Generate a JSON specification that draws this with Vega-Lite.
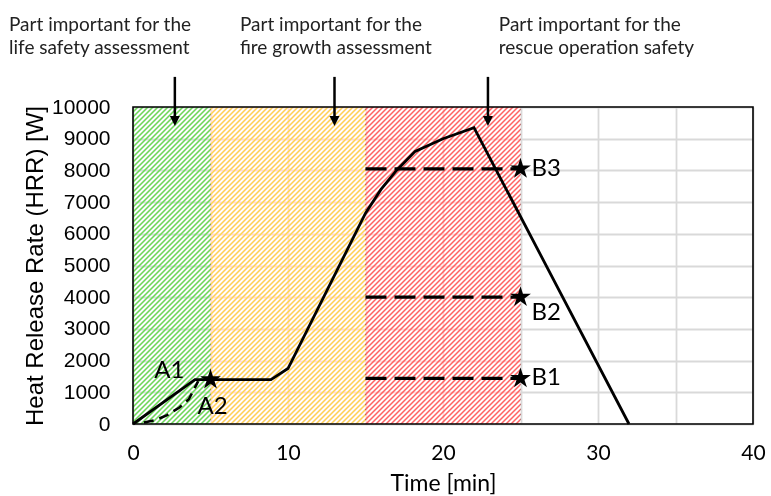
{
  "$schema": "https://vega.github.io/schema/vega-lite/v6.json",
  "width": 620,
  "height": 317,
  "autosize": {"type": "none"},
  "padding": {"left": 133, "top": 107, "right": 18, "bottom": 72},
  "background": "white",
  "config": {
    "view": {"stroke": null},
    "axis": {
      "domain": false,
      "ticks": false,
      "tickSize": 0,
      "grid": true,
      "gridColor": "#d9d9d9",
      "gridWidth": 1.8,
      "gridOpacity": 1,
      "labelColor": "black",
      "titleColor": "black",
      "titleFontWeight": "normal",
      "labelFlush": false
    }
  },
  "datasets": {
    "zones": [
      {"zone": "life", "start": 0, "end": 5, "arrowAt": 2.7, "noteAt": -8, "note": "Part important for the\nlife safety assessment"},
      {"zone": "growth", "start": 5, "end": 15, "arrowAt": 13, "noteAt": 6.9, "note": "Part important for the\nfire growth assessment"},
      {"zone": "rescue", "start": 15, "end": 25, "arrowAt": 22.9, "noteAt": 23.6, "note": "Part important for the\nrescue operation safety"}
    ],
    "hrr": [
      {"t": 0, "q": 0}, {"t": 4, "q": 1400}, {"t": 8.9, "q": 1400}, {"t": 10, "q": 1750},
      {"t": 15, "q": 6650}, {"t": 16, "q": 7400}, {"t": 17, "q": 8000}, {"t": 18.2, "q": 8600},
      {"t": 20, "q": 9000}, {"t": 22, "q": 9350}, {"t": 32, "q": 0}
    ],
    "a2": [
      {"t": 0.7, "q": 50}, {"t": 1.5, "q": 130}, {"t": 2.2, "q": 280}, {"t": 3.0, "q": 520},
      {"t": 3.6, "q": 780}, {"t": 4.1, "q": 1250}, {"t": 4.2, "q": 1350}
    ],
    "pts": [
      {"id": "A1", "t": 5, "q": 1400},
      {"id": "A2", "t": 5, "q": 1400},
      {"id": "B1", "t": 25, "q": 1440, "from": 15},
      {"id": "B2", "t": 25, "q": 4000, "from": 15},
      {"id": "B3", "t": 25, "q": 8050, "from": 15}
    ]
  },
  "layer": [
    {
      "description": "plot frame, also carrying both axes",
      "data": {"values": [{}]},
      "mark": {"type": "rect", "filled": false, "color": "black", "strokeWidth": 1.6, "opacity": 0},
      "encoding": {
        "x": {
          "datum": 0, "type": "quantitative",
          "scale": {"domain": [0, 40], "nice": false, "zero": false},
          "axis": {
            "title": "Time [min]",
            "values": [0, 5, 10, 15, 20, 25, 30, 35, 40],
            "labelExpr": "datum.value % 10 === 0 ? datum.label : ''",
            "labelOverlap": false,
            "labelFont": "Lato", "labelFontSize": 21, "labelPadding": 18,
            "titleFont": "Lato", "titleFontSize": 23, "titlePadding": 9
          }
        },
        "x2": {"datum": 40},
        "y": {
          "datum": 0, "type": "quantitative",
          "scale": {"domain": [0, 10000], "nice": false},
          "axis": {
            "title": "Heat Release Rate (HRR) [W]",
            "tickCount": 10,
            "labelExpr": "'' + datum.value",
            "labelOverlap": false,
            "labelSeparation": 0,
            "labelBound": false,
            "labelFont": "Liberation Sans",
            "labelFontSize": 21, "labelPadding": 23,
            "titleFont": "Liberation Sans", "titleFontSize": 24, "titlePadding": 4
          }
        },
        "y2": {"datum": 10000}
      }
    },
    {
      "description": "hatch mask: thin dark diagonal stripes over the assessed span",
      "data": {"name": "zones"},
      "transform": [{"aggregate": [{"op": "min", "field": "start", "as": "s"}, {"op": "max", "field": "end", "as": "e"}]}],
      "mark": {
        "type": "rect",
        "fill": {
          "gradient": "linear", "x1": 0, "y1": 0, "x2": 1.54601, "y2": 1.26473,
          "stops": [
{"offset":0.00,"color":"#000"},{"offset":0.0015,"color":"transparent"},{"offset":0.0035,"color":"transparent"},{"offset":0.005,"color":"#000"},{"offset":0.0065,"color":"transparent"},{"offset":0.0085,"color":"transparent"},
{"offset":0.01,"color":"#000"},{"offset":0.0115,"color":"transparent"},{"offset":0.0135,"color":"transparent"},{"offset":0.015,"color":"#000"},{"offset":0.0165,"color":"transparent"},{"offset":0.0185,"color":"transparent"},
{"offset":0.02,"color":"#000"},{"offset":0.0215,"color":"transparent"},{"offset":0.0235,"color":"transparent"},{"offset":0.025,"color":"#000"},{"offset":0.0265,"color":"transparent"},{"offset":0.0285,"color":"transparent"},
{"offset":0.03,"color":"#000"},{"offset":0.0315,"color":"transparent"},{"offset":0.0335,"color":"transparent"},{"offset":0.035,"color":"#000"},{"offset":0.0365,"color":"transparent"},{"offset":0.0385,"color":"transparent"},
{"offset":0.04,"color":"#000"},{"offset":0.0415,"color":"transparent"},{"offset":0.0435,"color":"transparent"},{"offset":0.045,"color":"#000"},{"offset":0.0465,"color":"transparent"},{"offset":0.0485,"color":"transparent"},
{"offset":0.05,"color":"#000"},{"offset":0.0515,"color":"transparent"},{"offset":0.0535,"color":"transparent"},{"offset":0.055,"color":"#000"},{"offset":0.0565,"color":"transparent"},{"offset":0.0585,"color":"transparent"},
{"offset":0.06,"color":"#000"},{"offset":0.0615,"color":"transparent"},{"offset":0.0635,"color":"transparent"},{"offset":0.065,"color":"#000"},{"offset":0.0665,"color":"transparent"},{"offset":0.0685,"color":"transparent"},
{"offset":0.07,"color":"#000"},{"offset":0.0715,"color":"transparent"},{"offset":0.0735,"color":"transparent"},{"offset":0.075,"color":"#000"},{"offset":0.0765,"color":"transparent"},{"offset":0.0785,"color":"transparent"},
{"offset":0.08,"color":"#000"},{"offset":0.0815,"color":"transparent"},{"offset":0.0835,"color":"transparent"},{"offset":0.085,"color":"#000"},{"offset":0.0865,"color":"transparent"},{"offset":0.0885,"color":"transparent"},
{"offset":0.09,"color":"#000"},{"offset":0.0915,"color":"transparent"},{"offset":0.0935,"color":"transparent"},{"offset":0.095,"color":"#000"},{"offset":0.0965,"color":"transparent"},{"offset":0.0985,"color":"transparent"},
{"offset":0.10,"color":"#000"},{"offset":0.1015,"color":"transparent"},{"offset":0.1035,"color":"transparent"},{"offset":0.105,"color":"#000"},{"offset":0.1065,"color":"transparent"},{"offset":0.1085,"color":"transparent"},
{"offset":0.11,"color":"#000"},{"offset":0.1115,"color":"transparent"},{"offset":0.1135,"color":"transparent"},{"offset":0.115,"color":"#000"},{"offset":0.1165,"color":"transparent"},{"offset":0.1185,"color":"transparent"},
{"offset":0.12,"color":"#000"},{"offset":0.1215,"color":"transparent"},{"offset":0.1235,"color":"transparent"},{"offset":0.125,"color":"#000"},{"offset":0.1265,"color":"transparent"},{"offset":0.1285,"color":"transparent"},
{"offset":0.13,"color":"#000"},{"offset":0.1315,"color":"transparent"},{"offset":0.1335,"color":"transparent"},{"offset":0.135,"color":"#000"},{"offset":0.1365,"color":"transparent"},{"offset":0.1385,"color":"transparent"},
{"offset":0.14,"color":"#000"},{"offset":0.1415,"color":"transparent"},{"offset":0.1435,"color":"transparent"},{"offset":0.145,"color":"#000"},{"offset":0.1465,"color":"transparent"},{"offset":0.1485,"color":"transparent"},
{"offset":0.15,"color":"#000"},{"offset":0.1515,"color":"transparent"},{"offset":0.1535,"color":"transparent"},{"offset":0.155,"color":"#000"},{"offset":0.1565,"color":"transparent"},{"offset":0.1585,"color":"transparent"},
{"offset":0.16,"color":"#000"},{"offset":0.1615,"color":"transparent"},{"offset":0.1635,"color":"transparent"},{"offset":0.165,"color":"#000"},{"offset":0.1665,"color":"transparent"},{"offset":0.1685,"color":"transparent"},
{"offset":0.17,"color":"#000"},{"offset":0.1715,"color":"transparent"},{"offset":0.1735,"color":"transparent"},{"offset":0.175,"color":"#000"},{"offset":0.1765,"color":"transparent"},{"offset":0.1785,"color":"transparent"},
{"offset":0.18,"color":"#000"},{"offset":0.1815,"color":"transparent"},{"offset":0.1835,"color":"transparent"},{"offset":0.185,"color":"#000"},{"offset":0.1865,"color":"transparent"},{"offset":0.1885,"color":"transparent"},
{"offset":0.19,"color":"#000"},{"offset":0.1915,"color":"transparent"},{"offset":0.1935,"color":"transparent"},{"offset":0.195,"color":"#000"},{"offset":0.1965,"color":"transparent"},{"offset":0.1985,"color":"transparent"},
{"offset":0.20,"color":"#000"},{"offset":0.2015,"color":"transparent"},{"offset":0.2035,"color":"transparent"},{"offset":0.205,"color":"#000"},{"offset":0.2065,"color":"transparent"},{"offset":0.2085,"color":"transparent"},
{"offset":0.21,"color":"#000"},{"offset":0.2115,"color":"transparent"},{"offset":0.2135,"color":"transparent"},{"offset":0.215,"color":"#000"},{"offset":0.2165,"color":"transparent"},{"offset":0.2185,"color":"transparent"},
{"offset":0.22,"color":"#000"},{"offset":0.2215,"color":"transparent"},{"offset":0.2235,"color":"transparent"},{"offset":0.225,"color":"#000"},{"offset":0.2265,"color":"transparent"},{"offset":0.2285,"color":"transparent"},
{"offset":0.23,"color":"#000"},{"offset":0.2315,"color":"transparent"},{"offset":0.2335,"color":"transparent"},{"offset":0.235,"color":"#000"},{"offset":0.2365,"color":"transparent"},{"offset":0.2385,"color":"transparent"},
{"offset":0.24,"color":"#000"},{"offset":0.2415,"color":"transparent"},{"offset":0.2435,"color":"transparent"},{"offset":0.245,"color":"#000"},{"offset":0.2465,"color":"transparent"},{"offset":0.2485,"color":"transparent"},
{"offset":0.25,"color":"#000"},{"offset":0.2515,"color":"transparent"},{"offset":0.2535,"color":"transparent"},{"offset":0.255,"color":"#000"},{"offset":0.2565,"color":"transparent"},{"offset":0.2585,"color":"transparent"},
{"offset":0.26,"color":"#000"},{"offset":0.2615,"color":"transparent"},{"offset":0.2635,"color":"transparent"},{"offset":0.265,"color":"#000"},{"offset":0.2665,"color":"transparent"},{"offset":0.2685,"color":"transparent"},
{"offset":0.27,"color":"#000"},{"offset":0.2715,"color":"transparent"},{"offset":0.2735,"color":"transparent"},{"offset":0.275,"color":"#000"},{"offset":0.2765,"color":"transparent"},{"offset":0.2785,"color":"transparent"},
{"offset":0.28,"color":"#000"},{"offset":0.2815,"color":"transparent"},{"offset":0.2835,"color":"transparent"},{"offset":0.285,"color":"#000"},{"offset":0.2865,"color":"transparent"},{"offset":0.2885,"color":"transparent"},
{"offset":0.29,"color":"#000"},{"offset":0.2915,"color":"transparent"},{"offset":0.2935,"color":"transparent"},{"offset":0.295,"color":"#000"},{"offset":0.2965,"color":"transparent"},{"offset":0.2985,"color":"transparent"},
{"offset":0.30,"color":"#000"},{"offset":0.3015,"color":"transparent"},{"offset":0.3035,"color":"transparent"},{"offset":0.305,"color":"#000"},{"offset":0.3065,"color":"transparent"},{"offset":0.3085,"color":"transparent"},
{"offset":0.31,"color":"#000"},{"offset":0.3115,"color":"transparent"},{"offset":0.3135,"color":"transparent"},{"offset":0.315,"color":"#000"},{"offset":0.3165,"color":"transparent"},{"offset":0.3185,"color":"transparent"},
{"offset":0.32,"color":"#000"},{"offset":0.3215,"color":"transparent"},{"offset":0.3235,"color":"transparent"},{"offset":0.325,"color":"#000"},{"offset":0.3265,"color":"transparent"},{"offset":0.3285,"color":"transparent"},
{"offset":0.33,"color":"#000"},{"offset":0.3315,"color":"transparent"},{"offset":0.3335,"color":"transparent"},{"offset":0.335,"color":"#000"},{"offset":0.3365,"color":"transparent"},{"offset":0.3385,"color":"transparent"},
{"offset":0.34,"color":"#000"},{"offset":0.3415,"color":"transparent"},{"offset":0.3435,"color":"transparent"},{"offset":0.345,"color":"#000"},{"offset":0.3465,"color":"transparent"},{"offset":0.3485,"color":"transparent"},
{"offset":0.35,"color":"#000"},{"offset":0.3515,"color":"transparent"},{"offset":0.3535,"color":"transparent"},{"offset":0.355,"color":"#000"},{"offset":0.3565,"color":"transparent"},{"offset":0.3585,"color":"transparent"},
{"offset":0.36,"color":"#000"},{"offset":0.3615,"color":"transparent"},{"offset":0.3635,"color":"transparent"},{"offset":0.365,"color":"#000"},{"offset":0.3665,"color":"transparent"},{"offset":0.3685,"color":"transparent"},
{"offset":0.37,"color":"#000"},{"offset":0.3715,"color":"transparent"},{"offset":0.3735,"color":"transparent"},{"offset":0.375,"color":"#000"},{"offset":0.3765,"color":"transparent"},{"offset":0.3785,"color":"transparent"},
{"offset":0.38,"color":"#000"},{"offset":0.3815,"color":"transparent"},{"offset":0.3835,"color":"transparent"},{"offset":0.385,"color":"#000"},{"offset":0.3865,"color":"transparent"},{"offset":0.3885,"color":"transparent"},
{"offset":0.39,"color":"#000"},{"offset":0.3915,"color":"transparent"},{"offset":0.3935,"color":"transparent"},{"offset":0.395,"color":"#000"},{"offset":0.3965,"color":"transparent"},{"offset":0.3985,"color":"transparent"},
{"offset":0.40,"color":"#000"},{"offset":0.4015,"color":"transparent"},{"offset":0.4035,"color":"transparent"},{"offset":0.405,"color":"#000"},{"offset":0.4065,"color":"transparent"},{"offset":0.4085,"color":"transparent"},
{"offset":0.41,"color":"#000"},{"offset":0.4115,"color":"transparent"},{"offset":0.4135,"color":"transparent"},{"offset":0.415,"color":"#000"},{"offset":0.4165,"color":"transparent"},{"offset":0.4185,"color":"transparent"},
{"offset":0.42,"color":"#000"},{"offset":0.4215,"color":"transparent"},{"offset":0.4235,"color":"transparent"},{"offset":0.425,"color":"#000"},{"offset":0.4265,"color":"transparent"},{"offset":0.4285,"color":"transparent"},
{"offset":0.43,"color":"#000"},{"offset":0.4315,"color":"transparent"},{"offset":0.4335,"color":"transparent"},{"offset":0.435,"color":"#000"},{"offset":0.4365,"color":"transparent"},{"offset":0.4385,"color":"transparent"},
{"offset":0.44,"color":"#000"},{"offset":0.4415,"color":"transparent"},{"offset":0.4435,"color":"transparent"},{"offset":0.445,"color":"#000"},{"offset":0.4465,"color":"transparent"},{"offset":0.4485,"color":"transparent"},
{"offset":0.45,"color":"#000"},{"offset":0.4515,"color":"transparent"},{"offset":0.4535,"color":"transparent"},{"offset":0.455,"color":"#000"},{"offset":0.4565,"color":"transparent"},{"offset":0.4585,"color":"transparent"},
{"offset":0.46,"color":"#000"},{"offset":0.4615,"color":"transparent"},{"offset":0.4635,"color":"transparent"},{"offset":0.465,"color":"#000"},{"offset":0.4665,"color":"transparent"},{"offset":0.4685,"color":"transparent"},
{"offset":0.47,"color":"#000"},{"offset":0.4715,"color":"transparent"},{"offset":0.4735,"color":"transparent"},{"offset":0.475,"color":"#000"},{"offset":0.4765,"color":"transparent"},{"offset":0.4785,"color":"transparent"},
{"offset":0.48,"color":"#000"},{"offset":0.4815,"color":"transparent"},{"offset":0.4835,"color":"transparent"},{"offset":0.485,"color":"#000"},{"offset":0.4865,"color":"transparent"},{"offset":0.4885,"color":"transparent"},
{"offset":0.49,"color":"#000"},{"offset":0.4915,"color":"transparent"},{"offset":0.4935,"color":"transparent"},{"offset":0.495,"color":"#000"},{"offset":0.4965,"color":"transparent"},{"offset":0.4985,"color":"transparent"},
{"offset":0.50,"color":"#000"},{"offset":0.5015,"color":"transparent"},{"offset":0.5035,"color":"transparent"},{"offset":0.505,"color":"#000"},{"offset":0.5065,"color":"transparent"},{"offset":0.5085,"color":"transparent"},
{"offset":0.51,"color":"#000"},{"offset":0.5115,"color":"transparent"},{"offset":0.5135,"color":"transparent"},{"offset":0.515,"color":"#000"},{"offset":0.5165,"color":"transparent"},{"offset":0.5185,"color":"transparent"},
{"offset":0.52,"color":"#000"},{"offset":0.5215,"color":"transparent"},{"offset":0.5235,"color":"transparent"},{"offset":0.525,"color":"#000"},{"offset":0.5265,"color":"transparent"},{"offset":0.5285,"color":"transparent"},
{"offset":0.53,"color":"#000"},{"offset":0.5315,"color":"transparent"},{"offset":0.5335,"color":"transparent"},{"offset":0.535,"color":"#000"},{"offset":0.5365,"color":"transparent"},{"offset":0.5385,"color":"transparent"},
{"offset":0.54,"color":"#000"},{"offset":0.5415,"color":"transparent"},{"offset":0.5435,"color":"transparent"},{"offset":0.545,"color":"#000"},{"offset":0.5465,"color":"transparent"},{"offset":0.5485,"color":"transparent"},
{"offset":0.55,"color":"#000"},{"offset":0.5515,"color":"transparent"},{"offset":0.5535,"color":"transparent"},{"offset":0.555,"color":"#000"},{"offset":0.5565,"color":"transparent"},{"offset":0.5585,"color":"transparent"},
{"offset":0.56,"color":"#000"},{"offset":0.5615,"color":"transparent"},{"offset":0.5635,"color":"transparent"},{"offset":0.565,"color":"#000"},{"offset":0.5665,"color":"transparent"},{"offset":0.5685,"color":"transparent"},
{"offset":0.57,"color":"#000"},{"offset":0.5715,"color":"transparent"},{"offset":0.5735,"color":"transparent"},{"offset":0.575,"color":"#000"},{"offset":0.5765,"color":"transparent"},{"offset":0.5785,"color":"transparent"},
{"offset":0.58,"color":"#000"},{"offset":0.5815,"color":"transparent"},{"offset":0.5835,"color":"transparent"},{"offset":0.585,"color":"#000"},{"offset":0.5865,"color":"transparent"},{"offset":0.5885,"color":"transparent"},
{"offset":0.59,"color":"#000"},{"offset":0.5915,"color":"transparent"},{"offset":0.5935,"color":"transparent"},{"offset":0.595,"color":"#000"},{"offset":0.5965,"color":"transparent"},{"offset":0.5985,"color":"transparent"},
{"offset":0.60,"color":"#000"},{"offset":0.6015,"color":"transparent"},{"offset":0.6035,"color":"transparent"},{"offset":0.605,"color":"#000"},{"offset":0.6065,"color":"transparent"},{"offset":0.6085,"color":"transparent"},
{"offset":0.61,"color":"#000"},{"offset":0.6115,"color":"transparent"},{"offset":0.6135,"color":"transparent"},{"offset":0.615,"color":"#000"},{"offset":0.6165,"color":"transparent"},{"offset":0.6185,"color":"transparent"},
{"offset":0.62,"color":"#000"},{"offset":0.6215,"color":"transparent"},{"offset":0.6235,"color":"transparent"},{"offset":0.625,"color":"#000"},{"offset":0.6265,"color":"transparent"},{"offset":0.6285,"color":"transparent"},
{"offset":0.63,"color":"#000"},{"offset":0.6315,"color":"transparent"},{"offset":0.6335,"color":"transparent"},{"offset":0.635,"color":"#000"},{"offset":0.6365,"color":"transparent"},{"offset":0.6385,"color":"transparent"},
{"offset":0.64,"color":"#000"},{"offset":0.6415,"color":"transparent"},{"offset":0.6435,"color":"transparent"},{"offset":0.645,"color":"#000"},{"offset":0.6465,"color":"transparent"},{"offset":0.6485,"color":"transparent"},
{"offset":0.65,"color":"#000"},{"offset":0.6515,"color":"transparent"},{"offset":0.6535,"color":"transparent"},{"offset":0.655,"color":"#000"},{"offset":0.6565,"color":"transparent"},{"offset":0.6585,"color":"transparent"},
{"offset":0.66,"color":"#000"},{"offset":0.6615,"color":"transparent"},{"offset":0.6635,"color":"transparent"},{"offset":0.665,"color":"#000"},{"offset":0.6665,"color":"transparent"},{"offset":0.6685,"color":"transparent"},
{"offset":0.67,"color":"#000"},{"offset":0.6715,"color":"transparent"},{"offset":0.6735,"color":"transparent"},{"offset":0.675,"color":"#000"},{"offset":0.6765,"color":"transparent"},{"offset":0.6785,"color":"transparent"},
{"offset":0.68,"color":"#000"},{"offset":0.6815,"color":"transparent"},{"offset":0.6835,"color":"transparent"},{"offset":0.685,"color":"#000"},{"offset":0.6865,"color":"transparent"},{"offset":0.6885,"color":"transparent"},
{"offset":0.69,"color":"#000"},{"offset":0.6915,"color":"transparent"},{"offset":0.6935,"color":"transparent"},{"offset":0.695,"color":"#000"},{"offset":0.6965,"color":"transparent"},{"offset":0.6985,"color":"transparent"},
{"offset":0.70,"color":"#000"},{"offset":0.7015,"color":"transparent"},{"offset":0.7035,"color":"transparent"},{"offset":0.705,"color":"#000"},{"offset":0.7065,"color":"transparent"},{"offset":0.7085,"color":"transparent"}
          ]
        }
      },
      "encoding": {
        "x": {"field": "s", "type": "quantitative"},
        "x2": {"field": "e"}
      }
    },
    {
      "description": "zone colours, lightened onto the mask so only the stripes take the colour",
      "data": {"name": "zones"},
      "mark": {"type": "rect", "blend": "lighten"},
      "encoding": {
        "x": {"field": "start", "type": "quantitative"},
        "x2": {"field": "end"},
        "color": {
          "field": "zone", "type": "nominal",
          "scale": {"domain": ["life", "growth", "rescue"], "range": ["#70df4c", "#ffda4a", "#ff6464"]},
          "legend": null
        }
      }
    },
    {
      "description": "plot frame drawn over the zones",
      "data": {"values": [{}]},
      "mark": {"type": "rect", "filled": false, "color": "black", "strokeWidth": 1.6, "opacity": 1},
      "encoding": {
        "x": {"datum": 0, "type": "quantitative"},
        "x2": {"datum": 40},
        "y": {"datum": 0, "type": "quantitative"},
        "y2": {"datum": 10000}
      }
    },
    {
      "description": "reference levels B1-B3 held from 15 to 25 min",
      "data": {"name": "pts"},
      "transform": [{"filter": "isValid(datum.from)"}],
      "mark": {"type": "rule", "color": "black", "strokeWidth": 3.2, "strokeDash": [21, 8]},
      "encoding": {
        "x": {"field": "from", "type": "quantitative"},
        "x2": {"field": "t"},
        "y": {"field": "q", "type": "quantitative"}
      }
    },
    {
      "description": "alternative early growth curve A2",
      "data": {"name": "a2"},
      "mark": {"type": "line", "color": "black", "strokeWidth": 2.6, "strokeDash": [10, 6]},
      "encoding": {
        "x": {"field": "t", "type": "quantitative"},
        "y": {"field": "q", "type": "quantitative"}
      }
    },
    {
      "description": "design fire curve",
      "data": {"name": "hrr"},
      "mark": {"type": "line", "color": "black", "strokeWidth": 2.8, "strokeJoin": "miter"},
      "encoding": {
        "x": {"field": "t", "type": "quantitative"},
        "y": {"field": "q", "type": "quantitative"}
      }
    },
    {
      "description": "star markers",
      "data": {"name": "pts"},
      "transform": [{"filter": "datum.id !== 'A2'"}],
      "mark": {
        "type": "point", "filled": true, "color": "black", "opacity": 1, "size": 480,
        "shape": "M0,-1L0.2234,-0.3074L0.951,-0.309L0.3614,0.1174L0.588,0.809L0,0.38L-0.588,0.809L-0.3614,0.1174L-0.951,-0.309L-0.2234,-0.3074Z"
      },
      "encoding": {
        "x": {"field": "t", "type": "quantitative"},
        "y": {"field": "q", "type": "quantitative"}
      }
    },
    {
      "data": {"name": "pts"},
      "transform": [{"filter": "datum.id === 'A1'"}],
      "mark": {"type": "text", "font": "Lato", "fontSize": 24, "color": "black", "align": "right", "baseline": "middle", "dx": -26, "dy": -9},
      "encoding": {
        "x": {"field": "t", "type": "quantitative"},
        "y": {"field": "q", "type": "quantitative"},
        "text": {"field": "id"}
      }
    },
    {
      "data": {"name": "pts"},
      "transform": [{"filter": "datum.id === 'A2'"}],
      "mark": {"type": "text", "font": "Lato", "fontSize": 24, "color": "black", "align": "left", "baseline": "middle", "dx": -13, "dy": 27},
      "encoding": {
        "x": {"field": "t", "type": "quantitative"},
        "y": {"field": "q", "type": "quantitative"},
        "text": {"field": "id"}
      }
    },
    {
      "data": {"name": "pts"},
      "transform": [{"filter": "datum.id === 'B1' || datum.id === 'B3'"}],
      "mark": {"type": "text", "font": "Lato", "fontSize": 24, "color": "black", "align": "left", "baseline": "middle", "dx": 11, "dy": 0},
      "encoding": {
        "x": {"field": "t", "type": "quantitative"},
        "y": {"field": "q", "type": "quantitative"},
        "text": {"field": "id"}
      }
    },
    {
      "data": {"name": "pts"},
      "transform": [{"filter": "datum.id === 'B2'"}],
      "mark": {"type": "text", "font": "Lato", "fontSize": 24, "color": "black", "align": "left", "baseline": "middle", "dx": 11, "dy": 16},
      "encoding": {
        "x": {"field": "t", "type": "quantitative"},
        "y": {"field": "q", "type": "quantitative"},
        "text": {"field": "id"}
      }
    },
    {
      "description": "pointer shafts above each zone",
      "data": {"name": "zones"},
      "mark": {"type": "rule", "color": "black", "strokeWidth": 2.5},
      "encoding": {
        "x": {"field": "arrowAt", "type": "quantitative"},
        "y": {"datum": 10950, "type": "quantitative"},
        "y2": {"datum": 9650}
      }
    },
    {
      "description": "pointer heads",
      "data": {"name": "zones"},
      "mark": {"type": "point", "filled": true, "color": "black", "opacity": 1, "size": 100, "shape": "M-1,-1L1,-1L0,1Z"},
      "encoding": {
        "x": {"field": "arrowAt", "type": "quantitative"},
        "y": {"datum": 9560, "type": "quantitative"}
      }
    },
    {
      "description": "zone notes",
      "data": {"name": "zones"},
      "mark": {"type": "text", "font": "Lato", "fontSize": 19, "color": "#222222", "align": "left", "baseline": "middle", "lineBreak": "\n", "lineHeight": 23},
      "encoding": {
        "x": {"field": "noteAt", "type": "quantitative"},
        "y": {"datum": 12600, "type": "quantitative"},
        "text": {"field": "note"}
      }
    }
  ]
}
